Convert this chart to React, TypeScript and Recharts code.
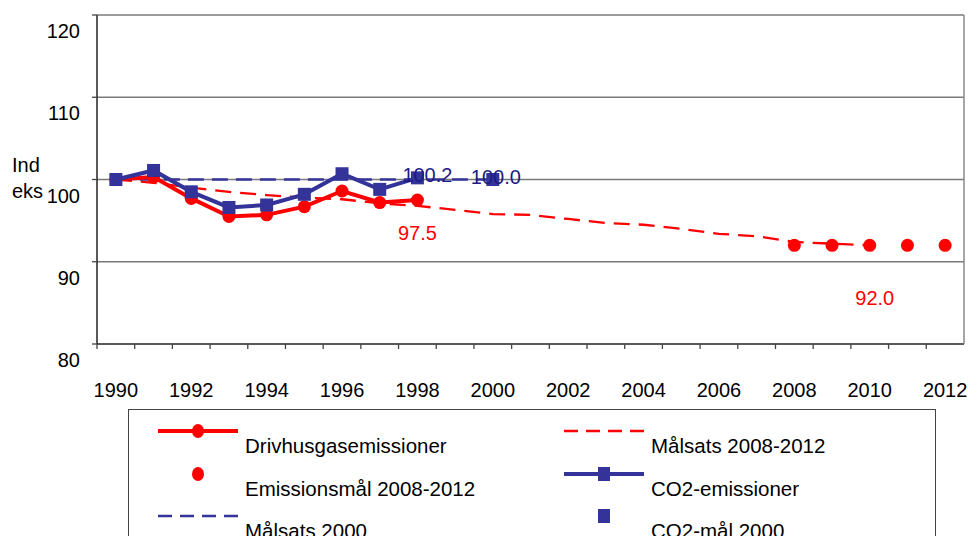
import React from 'react';
import { ComposedChart, Line, XAxis, YAxis, CartesianGrid } from 'recharts';

const years = [
  '1990', '1991', '1992', '1993', '1994', '1995', '1996', '1997', '1998', '1999', '2000', '2001',
  '2002', '2003', '2004', '2005', '2006', '2007', '2008', '2009', '2010', '2011', '2012',
];

// Drivhusgasemissioner
const ghgEmissions = [100, 100.3, 97.7, 95.5, 95.7, 96.7, 98.6, 97.2, 97.5];
// CO2-emissioner
const co2Emissions = [100, 101.1, 98.5, 96.6, 96.9, 98.2, 100.7, 98.8, 100.2];
// Målsats 2000
const target2000 = [100, 100, 100, 100, 100, 100, 100, 100, 100, 100, 100];
// Målsats 2008-2012
const target2012 = [
  100, 99.6, 99.0, 98.5, 98.1, 97.8, 97.6, 97.1, 96.8, 96.3, 95.8, 95.7, 95.2, 94.7, 94.5, 94.0,
  93.4, 93.1, 92.4, 92.2, 92.0,
];
// Emissionsmål 2008-2012 (from 2008)
const emissionGoalYears = ['2008', '2009', '2010', '2011', '2012'];
const emissionGoal = [92.0, 92.0, 92.0, 92.0, 92.0];
// CO2-mål 2000
const co2GoalYear = '2000';
const co2Goal = 100.0;

const yTicks = [80, 90, 100, 110, 120];

const RED = '#ff0000';
const NAVY = '#333399';
const LABEL_NAVY = '#1c1c84';
const FONT = '"Liberation Sans", Arial, sans-serif';
const BAND = 868 / 23;

const rows = years.map((year, i) => {
  const g = emissionGoalYears.indexOf(year);
  return {
    year,
    ghg: i < ghgEmissions.length ? ghgEmissions[i] : null,
    co2: i < co2Emissions.length ? co2Emissions[i] : null,
    t2000: i < target2000.length ? target2000[i] : null,
    t2012: i < target2012.length ? target2012[i] : null,
    goal: g >= 0 ? emissionGoal[g] : null,
    co2goal: year === co2GoalYear ? co2Goal : null,
  };
});

const XTick = (props: any) => {
  const { x, y, payload, index } = props;
  const showLabel = index % 2 === 0;
  return (
    <g>
      <line x1={x - BAND / 2} x2={x - BAND / 2} y1={y} y2={y + 5} stroke="#444" strokeWidth={1.3} />
      {showLabel && (
        <text x={x} y={y + 46} textAnchor="middle" dominantBaseline="central" fontSize={20} fontFamily={FONT} fill="#000">
          {payload.value}
        </text>
      )}
    </g>
  );
};

const YTick = (props: any) => {
  const { x, y, payload } = props;
  return (
    <text x={x} y={y + 16} textAnchor="end" dominantBaseline="central" fontSize={20} fontFamily={FONT} fill="#000">
      {payload.value}
    </text>
  );
};

const square = (props: any) => {
  const { cx, cy, index, value } = props;
  if (value == null || cx == null || cy == null) return <g key={`sq-${index}`} />;
  return <rect key={`sq-${index}`} x={cx - 6.5} y={cy - 6.5} width={13} height={13} fill={NAVY} />;
};

const circle = (props: any) => {
  const { cx, cy, index, value } = props;
  if (value == null || cx == null || cy == null) return <g key={`c-${index}`} />;
  return <circle key={`c-${index}`} cx={cx} cy={cy} r={6.5} fill={RED} />;
};

// label only the point of the given year
const makeLabel = (atYear: string, dx: number, dy: number, color: string) => (props: any) => {
  const { x, y, value, index } = props;
  if (years[index] !== atYear || value == null) return <g key={`l-${index}`} />;
  return (
    <text key={`l-${index}`} x={x + dx} y={y + dy} textAnchor="middle" fontSize={20} fontFamily={FONT} fill={color}>
      {Number(value).toFixed(1)}
    </text>
  );
};

type LegendKind = 'lineDot' | 'dot' | 'dash' | 'lineSquare' | 'square';
const legendLeft: [string, LegendKind, string][] = [
  ['Drivhusgasemissioner', 'lineDot', RED],
  ['Emissionsmål 2008-2012', 'dot', RED],
  ['Målsats 2000', 'dash', NAVY],
];
const legendRight: [string, LegendKind, string][] = [
  ['Målsats 2008-2012', 'dash', RED],
  ['CO2-emissioner', 'lineSquare', NAVY],
  ['CO2-mål 2000', 'square', NAVY],
];

const LegendIcon = ({ kind, color }: { kind: LegendKind; color: string }) => (
  <svg width={80} height={16} style={{ position: 'absolute', left: 0, top: -8 }}>
    {(kind === 'lineDot' || kind === 'lineSquare') && (
      <line x1={0} x2={80} y1={8} y2={8} stroke={color} strokeWidth={4} />
    )}
    {kind === 'dash' && (
      <line x1={0} x2={80} y1={8} y2={8} stroke={color} strokeWidth={2.5} strokeDasharray="14 8" />
    )}
    {(kind === 'lineDot' || kind === 'dot') && <ellipse cx={40} cy={8} rx={6} ry={7} fill={color} />}
    {(kind === 'lineSquare' || kind === 'square') && <rect x={34} y={1} width={12} height={14} fill={color} />}
  </svg>
);

const LegendColumn = ({ items, left }: { items: [string, LegendKind, string][]; left: number }) => (
  <>
    {items.map(([name, kind, color], i) => (
      <div key={name} style={{ position: 'absolute', left, top: 21 + i * 42.5 }}>
        <LegendIcon kind={kind} color={color} />
        <div
          style={{
            position: 'absolute',
            left: 87,
            top: 15,
            transform: 'translateY(-50%)',
            whiteSpace: 'nowrap',
            fontSize: 20.5,
            lineHeight: '22px',
          }}
        >
          {name}
        </div>
      </div>
    ))}
  </>
);

export default function App() {
  return (
    <div
      style={{
        position: 'absolute',
        left: 0,
        top: 0,
        width: 971,
        height: 536,
        overflow: 'hidden',
        background: '#fff',
        fontFamily: FONT,
        color: '#000',
      }}
    >
      <ComposedChart width={971} height={536} data={rows} margin={{ top: 15, right: 0, left: 0, bottom: 0 }}>
        <CartesianGrid vertical={false} stroke="#7a7a7a" strokeWidth={1.3} />
        <XAxis
          dataKey="year"
          interval={0}
          height={192}
          padding={{ left: BAND / 2, right: BAND / 2 }}
          tickSize={0}
          tickMargin={0}
          tickLine={false}
          tick={<XTick />}
          axisLine={{ stroke: '#444', strokeWidth: 1.5 }}
        />
        <YAxis
          width={97}
          domain={[80, 120]}
          ticks={yTicks}
          interval={0}
          tickSize={5}
          tickMargin={12}
          tick={<YTick />}
          tickLine={{ stroke: '#444', strokeWidth: 1.3 }}
          axisLine={{ stroke: '#222', strokeWidth: 1.5 }}
        />
        <YAxis
          yAxisId="frame"
          orientation="right"
          width={7}
          domain={[80, 120]}
          tick={false}
          tickLine={false}
          axisLine={{ stroke: '#888', strokeWidth: 1.5 }}
        />
        <Line
          dataKey="t2012"
          stroke={RED}
          strokeWidth={2.3}
          strokeDasharray="16 9"
          dot={false}
          isAnimationActive={false}
        />
        <Line
          dataKey="t2000"
          stroke={NAVY}
          strokeWidth={2.3}
          strokeDasharray="16 8"
          dot={false}
          isAnimationActive={false}
        />
        <Line
          dataKey="ghg"
          stroke={RED}
          strokeWidth={4}
          dot={circle}
          label={makeLabel('1998', 0, 40, RED)}
          isAnimationActive={false}
        />
        <Line
          dataKey="co2"
          stroke={NAVY}
          strokeWidth={4}
          dot={square}
          label={makeLabel('1998', 10, 4, LABEL_NAVY)}
          isAnimationActive={false}
        />
        <Line
          dataKey="goal"
          stroke="none"
          strokeWidth={0}
          dot={circle}
          label={makeLabel('2010', 5, 60, RED)}
          isAnimationActive={false}
        />
        <Line
          dataKey="co2goal"
          stroke="none"
          strokeWidth={0}
          dot={square}
          label={makeLabel('2000', 3, 4, LABEL_NAVY)}
          isAnimationActive={false}
        />
      </ComposedChart>

      <div style={{ position: 'absolute', left: 12, top: 152, fontSize: 20, lineHeight: '26px' }}>
        Ind
        <br />
        eks
      </div>

      <div
        style={{
          position: 'absolute',
          left: 128,
          top: 409,
          width: 808,
          height: 160,
          border: '1.5px solid #444',
          boxSizing: 'border-box',
        }}
      >
        <LegendColumn items={legendLeft} left={29} />
        <LegendColumn items={legendRight} left={435} />
      </div>
    </div>
  );
}
